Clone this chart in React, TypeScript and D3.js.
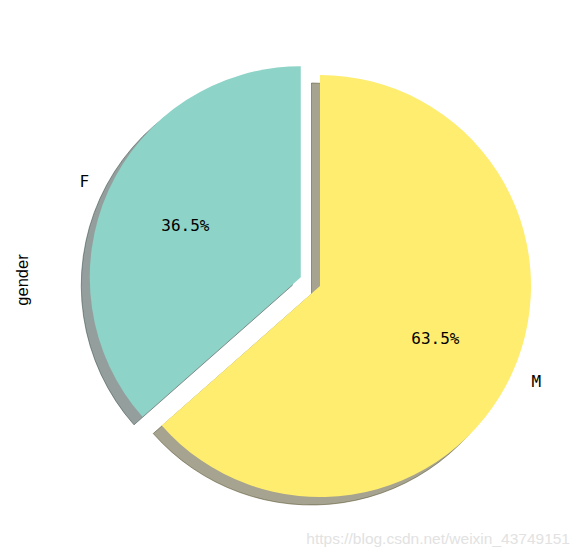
import React from "react";
import * as d3 from "d3";

const labels = ["F", "M"];
const values = [36.5, 63.5];
const colors = ["#8dd3c7", "#ffed6f"];
const explode = [0.1, 0];
const yLabel = "gender";
const watermark = "https://blog.csdn.net/weixin_43749151";

const W = 579;
const H = 556;
const cx = 320;
const cy = 286;
const R = 211;
const shadowDx = -8.5;
const shadowDy = 8;

function darken(c: string) {
  const col = d3.rgb(c);
  return d3.rgb(col.r * 0.3, col.g * 0.3, col.b * 0.3).formatHex();
}

export default function App() {
  const pie = d3
    .pie<number>()
    .sort(null)
    .startAngle(0)
    .endAngle(-2 * Math.PI);
  const arcs = pie(values);
  const arc = d3.arc<d3.PieArcDatum<number>>().innerRadius(0).outerRadius(R);
  const total = d3.sum(values);

  const items = arcs.map((a, i) => {
    const mid = (a.startAngle + a.endAngle) / 2;
    const ux = Math.sin(mid);
    const uy = -Math.cos(mid);
    const ox = cx + explode[i] * R * ux;
    const oy = cy + explode[i] * R * uy;
    return { a, i, ux, uy, ox, oy };
  });

  return (
    <svg width={W} height={H} style={{ position: "absolute", left: 0, top: 0 }}>
      <rect width={W} height={H} fill="#ffffff" />
      {items.map(({ a, i, ox, oy }) => (
        <path
          key={"s" + i}
          d={arc(a) || ""}
          transform={`translate(${ox + shadowDx},${oy + shadowDy})`}
          fill={darken(colors[i])}
          fillOpacity={0.5}
          stroke={darken(colors[i])}
          strokeOpacity={0.5}
          strokeWidth={1}
        />
      ))}
      {items.map(({ a, i, ox, oy }) => (
        <path key={"w" + i} d={arc(a) || ""} transform={`translate(${ox},${oy})`} fill={colors[i]} />
      ))}
      {items.map(({ i, ux, uy, ox, oy }) => (
        <text
          key={"l" + i}
          x={ox + 1.1 * R * ux}
          y={oy + 1.1 * R * uy}
          textAnchor={ux < 0 ? "end" : "start"}
          dominantBaseline="central"
          fontFamily="DejaVu Sans Mono"
          fontSize={16}
          fill="#000"
        >
          {labels[i]}
        </text>
      ))}
      {items.map(({ i, ux, uy, ox, oy }) => (
        <text
          key={"p" + i}
          x={ox + 0.6 * R * ux}
          y={oy + 0.6 * R * uy}
          textAnchor="middle"
          dominantBaseline="central"
          fontFamily="DejaVu Sans Mono"
          fontSize={16}
          fill="#000"
        >
          {((values[i] / total) * 100).toFixed(1) + "%"}
        </text>
      ))}
      <text
        transform={`translate(28,280) rotate(-90)`}
        textAnchor="middle"
        fontFamily="Liberation Sans, Arial, sans-serif"
        fontSize={16.5}
        fill="#000"
      >
        {yLabel}
      </text>
      <text
        x={570}
        y={544}
        textAnchor="end"
        fontFamily="Liberation Sans, Arial, sans-serif"
        fontSize={15.5}
        fill="#e2e2e2"
      >
        {watermark}
      </text>
    </svg>
  );
}
